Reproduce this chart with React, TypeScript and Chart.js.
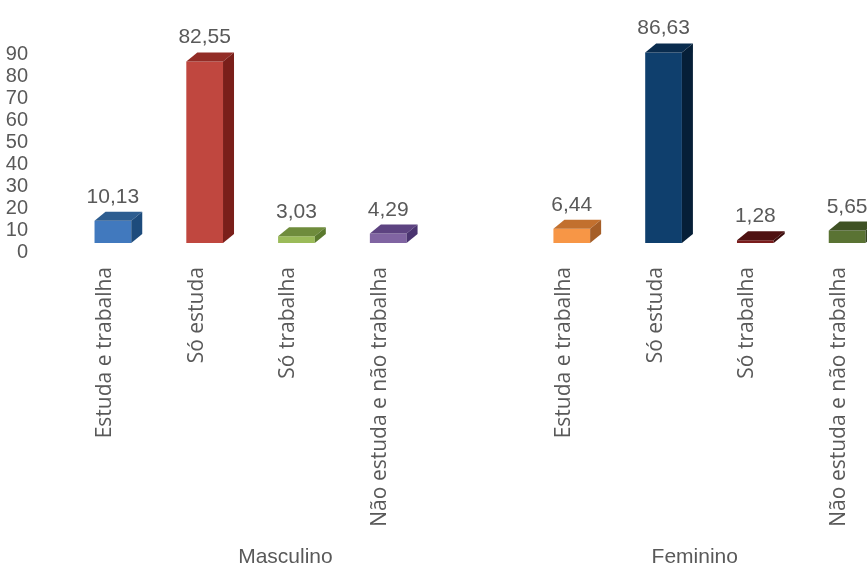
import React, { useEffect, useRef } from 'react';
import { Chart, registerables } from 'chart.js';

Chart.register(...registerables);

// ---- data ----
const categories = ['Estuda e trabalha', 'Só estuda', 'Só trabalha', 'Não estuda e não trabalha'];
const groups = ['Masculino', 'Feminino'];
const masculino = [10.13, 82.55, 3.03, 4.29];
const feminino = [6.44, 86.63, 1.28, 5.65];
const yMin = 0;
const yMax = 90;
const yStep = 10;

// ---- styles ----
const frontColors = ['#4179BE', '#C0473F', '#9BBB59', '#8064A2', '#000000', '#F79646', '#0F3F6D', '#7A1C1C', '#5A7333'];
const topColors = ['#2D5D90', '#922C26', '#6F8C3C', '#5D4381', '#000000', '#C2702E', '#0A2C4E', '#4E1111', '#3F5224'];
const sideColors = ['#1D4B7C', '#7A1F1A', '#5B7A2E', '#4A3470', '#000000', '#A55E27', '#061F38', '#3A0C0C', '#33451E'];

const labels = [...categories, '', ...categories];
const values: (number | null)[] = [...masculino, null, ...feminino];

const DX = 11;
const DY = 9;
const TEXT = '#595959';

const fmt = (v: number) => v.toFixed(2).replace('.', ',');

const bar3d = {
  id: 'bar3d',
  afterDatasetsDraw(chart: any) {
    const ctx = chart.ctx;
    const meta = chart.getDatasetMeta(0);
    ctx.save();
    meta.data.forEach((el: any, i: number) => {
      const v = values[i];
      if (v == null) return;
      const { x, y, base, width } = el.getProps(['x', 'y', 'base', 'width'], true);
      const l = x - width / 2;
      const r = x + width / 2;
      ctx.fillStyle = topColors[i];
      ctx.beginPath();
      ctx.moveTo(l, y);
      ctx.lineTo(r, y);
      ctx.lineTo(r + DX, y - DY);
      ctx.lineTo(l + DX, y - DY);
      ctx.closePath();
      ctx.fill();
      ctx.fillStyle = sideColors[i];
      ctx.beginPath();
      ctx.moveTo(r, y);
      ctx.lineTo(r + DX, y - DY);
      ctx.lineTo(r + DX, base - DY);
      ctx.lineTo(r, base);
      ctx.closePath();
      ctx.fill();
      ctx.fillStyle = TEXT;
      ctx.font = '21px "Liberation Sans"';
      ctx.textAlign = 'center';
      ctx.textBaseline = 'alphabetic';
      ctx.fillText(fmt(v), x, y - DY - 9);
    });
    ctx.restore();
  },
  afterDraw(chart: any) {
    const ctx = chart.ctx;
    const xs = chart.scales.x;
    ctx.save();
    ctx.fillStyle = TEXT;
    ctx.font = '21px "Liberation Sans"';
    ctx.textAlign = 'center';
    ctx.textBaseline = 'alphabetic';
    const pos = [1.88, 6.34];
    groups.forEach((g, i) => {
      ctx.fillText(g, xs.getPixelForValue(pos[i]), 563);
    });
    ctx.restore();
  },
};

export default function App() {
  const ref = useRef<HTMLCanvasElement>(null);
  useEffect(() => {
    if (!ref.current) return;
    const chart = new Chart(ref.current, {
      type: 'bar',
      data: {
        labels,
        datasets: [
          {
            data: values as any,
            backgroundColor: frontColors,
            borderWidth: 0,
            categoryPercentage: 1,
            barPercentage: 0.4,
            clip: false as any,
          },
        ],
      },
      options: {
        animation: false,
        responsive: false,
        devicePixelRatio: 1,
        layout: { padding: { top: 45, left: 0, right: 0, bottom: 0 } },
        plugins: { legend: { display: false }, tooltip: { enabled: false } },
        scales: {
          x: {
            grid: { display: false },
            border: { display: false },
            ticks: {
              autoSkip: false,
              minRotation: 90,
              maxRotation: 90,
              padding: 16,
              labelOffset: -8,
              color: TEXT,
              font: { family: 'Open Sans', size: 21 },
            },
            afterFit: (s: any) => {
              s.height = 322;
            },
          },
          y: {
            min: yMin,
            max: yMax,
            grid: { display: false },
            border: { display: false },
            ticks: {
              autoSkip: false,
              stepSize: yStep,
              padding: 31,
              labelOffset: 9,
              color: TEXT,
              font: { family: 'Liberation Sans', size: 20 },
            },
            afterFit: (s: any) => {
              s.width = 67;
            },
          },
        },
      },
      plugins: [bar3d],
    });
    return () => chart.destroy();
  }, []);
  return (
    <div
      style={{
        position: 'fixed',
        left: 0,
        top: 0,
        width: 867,
        height: 565,
        overflow: 'hidden',
        background: '#ffffff',
      }}
    >
      <canvas ref={ref} width={893} height={565} style={{ display: 'block', width: 893, height: 565 }} />
    </div>
  );
}
